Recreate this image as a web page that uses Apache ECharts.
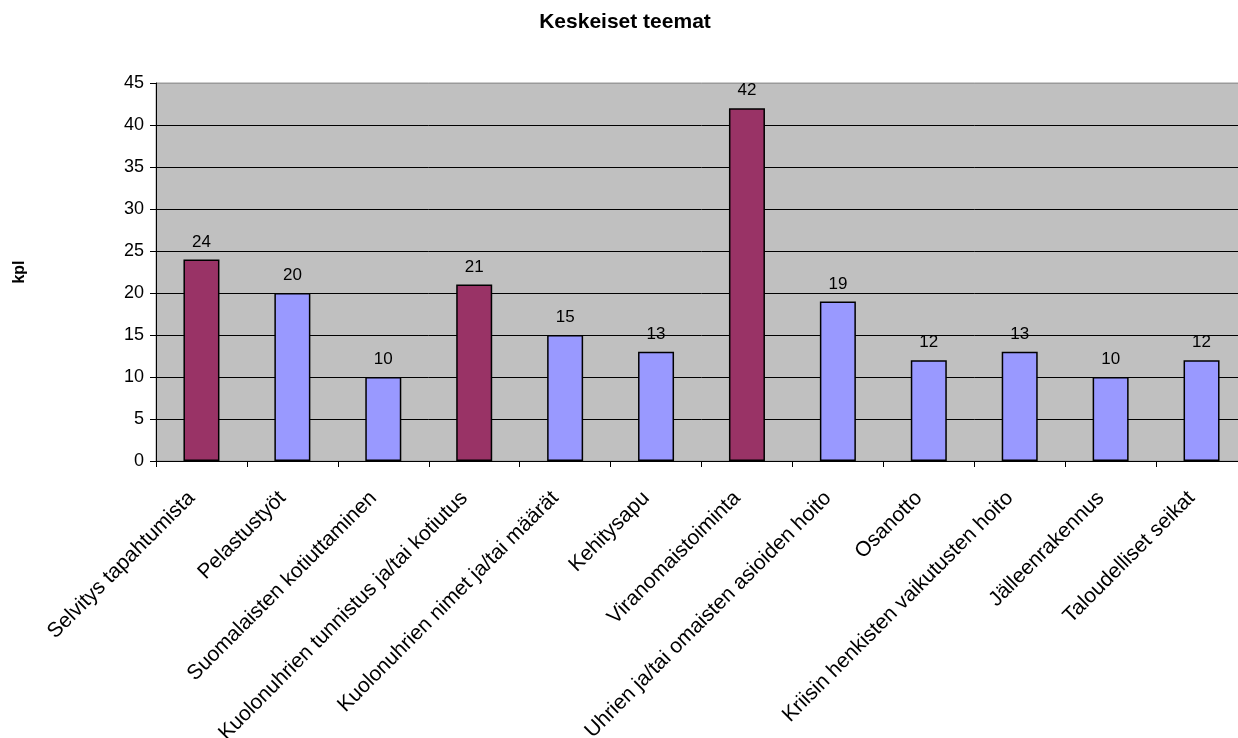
<!DOCTYPE html>
<html>
<head>
<meta charset="utf-8">
<script src="https://cdn.jsdelivr.net/npm/echarts@6/dist/echarts.min.js"></script>
<style>
  html, body { margin: 0; padding: 0; background: #fff; overflow: hidden; width: 1238px; height: 738px; }
  /* the plot area runs a few pixels past the right edge of the page */
  #chart { width: 1250px; height: 738px; }
</style>
</head>
<body>
<div id="chart"></div>
<script>
const categories = [
  'Selvitys tapahtumista',
  'Pelastustyöt',
  'Suomalaisten kotiuttaminen',
  'Kuolonuhrien tunnistus ja/tai kotiutus',
  'Kuolonuhrien nimet ja/tai määrät',
  'Kehitysapu',
  'Viranomaistoiminta',
  'Uhrien ja/tai omaisten asioiden hoito',
  'Osanotto',
  'Kriisin henkisten vaikutusten hoito',
  'Jälleenrakennus',
  'Taloudelliset seikat'
];
const counts = [24, 20, 10, 21, 15, 13, 42, 19, 12, 13, 10, 12];
// themes drawn in the highlight colour
const highlighted = [0, 3, 6];

const yTicks = { min: 0, max: 45, interval: 5 };

const FONT = '"Liberation Sans", Arial, sans-serif';
const HIGHLIGHT = '#993366';
const NORMAL = '#9999FF';

const chart = echarts.init(document.getElementById('chart'));

// split lines black, except the top one which shares the grey frame
const splitColors = [];
for (let v = yTicks.min; v <= yTicks.max; v += yTicks.interval) {
  splitColors.push(v === yTicks.max ? '#9a9a9a' : '#000');
}

chart.setOption({
  animation: false,
  title: {
    text: 'Keskeiset teemat',
    left: 'center',
    top: 7,
    textStyle: { fontFamily: FONT, fontSize: 21, fontWeight: 'bold', color: '#000' }
  },
  grid: {
    left: 156,
    top: 83,
    bottom: 277,
    right: 3,
    containLabel: false,
    outerBoundsMode: 'none',
    show: true,
    backgroundColor: '#C0C0C0',
    borderColor: '#9a9a9a',
    borderWidth: 1
  },
  xAxis: {
    type: 'category',
    data: categories,
    axisLine: { show: true, lineStyle: { color: '#000', width: 1 } },
    axisTick: { show: true, length: 6, alignWithLabel: false, lineStyle: { color: '#000' } },
    axisLabel: {
      interval: 0,
      rotate: 45,
      margin: 24,
      padding: [0, 14, 0, 0],
      fontFamily: FONT,
      fontSize: 21,
      color: '#000'
    },
    splitLine: { show: false }
  },
  yAxis: {
    type: 'value',
    min: yTicks.min,
    max: yTicks.max,
    interval: yTicks.interval,
    name: 'kpl',
    nameLocation: 'middle',
    nameGap: 128,
    nameRotate: 90,
    nameTextStyle: { fontFamily: FONT, fontSize: 16, fontWeight: 'bold', color: '#000' },
    axisLine: { show: true, lineStyle: { color: '#000', width: 1 } },
    axisTick: { show: true, length: 6, lineStyle: { color: '#000' } },
    axisLabel: { fontFamily: FONT, fontSize: 18, color: '#000', margin: 12 },
    splitLine: { show: true, lineStyle: { color: splitColors, width: 1 } }
  },
  series: [{
    type: 'bar',
    barWidth: 36,
    data: counts.map((v, i) => ({
      value: v,
      itemStyle: { color: highlighted.includes(i) ? HIGHLIGHT : NORMAL }
    })),
    itemStyle: { borderColor: '#000', borderWidth: 1.5 },
    label: {
      show: true,
      position: 'top',
      distance: 9,
      fontFamily: FONT,
      fontSize: 17,
      color: '#000'
    }
  }]
});
</script>
</body>
</html>
